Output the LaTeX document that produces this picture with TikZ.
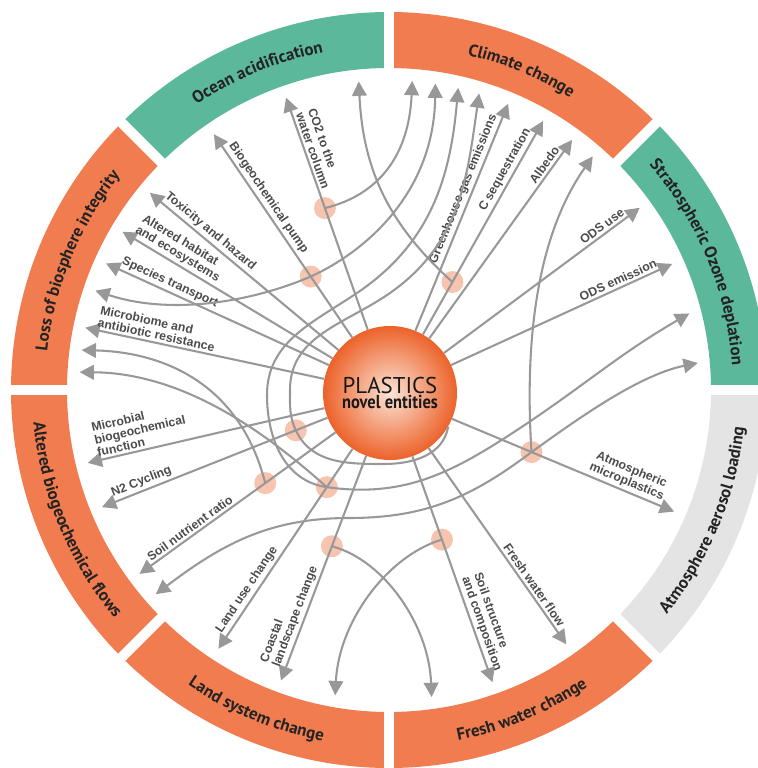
\documentclass[tikz,border=0pt]{standalone}
\usepackage{fontspec}
\setmainfont{Liberation Sans}
\newfontfamily\bandfont{PT Sans}
\usepackage{graphicx}
\usepackage{tikz}
\usetikzlibrary{arrows.meta,calc,decorations.text}
\definecolor{ringorange}{RGB}{240,124,79}
\definecolor{ringteal}{RGB}{92,184,155}
\definecolor{ringgrey}{RGB}{228,228,228}
\definecolor{bandink}{RGB}{35,35,35}
\definecolor{flowgrey}{RGB}{152,152,152}
\definecolor{labelgrey}{RGB}{75,75,75}
\definecolor{junctionpink}{RGB}{247,196,175}
\definecolor{hubedge}{RGB}{236,98,42}
\definecolor{hublight}{RGB}{252,228,214}
\newcommand{\bandstyle}{\bandfont\bfseries\fontsize{14.5}{16}\selectfont}
\tikzset{
  flowarrow/.style={draw=flowgrey, line width=0.62mm, -{Triangle[length=4.3mm,width=4.4mm]}},
  flowboth/.style={draw=flowgrey, line width=0.62mm, {Triangle[length=4.3mm,width=4.4mm]}-{Triangle[length=4.3mm,width=4.4mm]}},
  flowlabel/.style={font=\fontsize{10.5}{11}\selectfont\bfseries, text=labelgrey, sloped, above, inner sep=2pt, align=left},
  junction/.style={circle, fill=junctionpink, minimum size=6.6mm, inner sep=0pt},
  hubnode/.style={circle, shade, inner color=hublight, outer color=hubedge, minimum size=40.2mm, inner sep=0pt, align=center, text=black!90},
  bandlabel/.style={decorate, decoration={text along path, text color=bandink, text align=center, text={|\bandstyle|#1}}}
}

\begin{document}
\begin{tikzpicture}[x=0.3mm, y=0.3mm]
  \useasboundingbox (-389,-378) rectangle (369,390);
  \foreach \a/\col in {0/ringteal,45/ringorange,90/ringteal,135/ringorange,180/ringorange,225/ringorange,270/ringorange,315/ringgrey}
    \fill[\col] (\a:322) arc[start angle=\a, delta angle=45, radius=322] -- ({\a+45}:378) arc[start angle=\a+45, delta angle=-45, radius=378] -- cycle;
  \foreach \a in {0,45,...,315}
    \draw[white, line width=3mm] (\a:316) -- (\a:384);

  \path[bandlabel={Ocean acidification}] (135:344) arc[start angle=135, end angle=90, radius=344];
  \path[bandlabel={Climate change}] (90:344) arc[start angle=90, end angle=45, radius=344];
  \path[bandlabel={Stratospheric Ozone deplation}] (45:344) arc[start angle=45, end angle=0, radius=344];
  \path[bandlabel={Loss of biosphere integrity}] (180:344) arc[start angle=180, end angle=135, radius=344];
  \path[bandlabel={Altered biogeochemical flows}] (180:357) arc[start angle=180, end angle=225, radius=357];
  \path[bandlabel={Land system change}] (225:357) arc[start angle=225, end angle=270, radius=357];
  \path[bandlabel={Fresh water change}] (270:357) arc[start angle=270, end angle=315, radius=357];
  \path[bandlabel={Atmosphere aerosol loading}] (315:357) arc[start angle=315, end angle=360, radius=357];

  \foreach \n/\a in {tpump/124.4, tco/109.4, tocean/95.6, tclimA/85.7, tclimB/81.4, tclimC/77.1, tclimD/73.1,
      tghg/67.4, tcseq/60.2, talbedo/53.8, tclimE/48.9, todsuse/36.0, todsem/24.0, tozoneA/14.3, tozoneB/5.0,
      tatmo/-23.1, tflow/-55.1, tsoil/-70.5, tfreshA/-82.1, tlandA/260.0, tcoast/249.6, tlanduse/236.6,
      tbgcA/221.2, tnutrient/216.4, tnitro/202.2, tmicrob/193.6, tlossC/176.7, tlossB/172.6,
      tmicrobiome/168.4, tlossA/161.3, tspecies/155.9, thabitat/149.3, ttoxic/140.5}
    \coordinate (\n) at (\a:310);

  \node[hubnode] (hub) at (1,-3) {{\bandfont\fontsize{19.5}{20}\selectfont PLASTICS}\\[1pt]{\bandfont\bfseries\fontsize{16}{17}\selectfont\scalebox{0.88}[1]{novel entities}}};

  \node[junction] (jco) at ($(hub.center)!0.626!(tco)$) {};
  \node[junction] (jpump) at ($(hub.center)!0.45!(tpump)$) {};
  \node[junction] (jcseq) at ($(hub.center)!0.408!(tcseq)$) {};
  \node[junction] (jnitro) at ($(hub.center)!0.327!(tnitro)$) {};
  \node[junction] (jnutrient) at ($(hub.center)!0.498!(tnutrient)$) {};
  \node[junction] (jlanduse) at ($(hub.center)!0.368!(tlanduse)$) {};
  \node[junction] (jcoast) at ($(hub.center)!0.533!(tcoast)$) {};
  \node[junction] (jsoil) at ($(hub.center)!0.507!(tsoil)$) {};
  \node[junction] (jatmo) at ($(hub.center)!0.498!(tatmo)$) {};

  \draw[flowarrow] (hub) -- node[flowlabel, pos=0.66] {Biogeochemical pump} (tpump);
  \draw[flowarrow] (hub) -- node[flowlabel, pos=0.76] {CO2 to the\\water column} (tco);
  \draw[flowarrow] (hub) -- node[flowlabel, pos=0.71] {Toxicity and hazard} (ttoxic);
  \draw[flowarrow] (hub) -- node[flowlabel, pos=0.76] {Altered habitat\\and ecosystems} (thabitat);
  \draw[flowarrow] (hub) -- node[flowlabel, pos=0.73] {Species transport} (tspecies);
  \draw[flowarrow] (hub) -- node[flowlabel, pos=0.71] {Microbiome and\\antibiotic resistance} (tmicrobiome);
  \draw[flowarrow] (hub) -- node[flowlabel, pos=0.76] {Microbial\\biogeochemical\\function} (tmicrob);
  \draw[flowarrow] (hub) -- node[flowlabel, pos=0.81] {N2 Cycling} (tnitro);
  \draw[flowarrow] (hub) -- node[flowlabel, pos=0.72] {Soil nutrient ratio} (tnutrient);
  \draw[flowarrow] (hub) -- node[flowlabel, pos=0.73] {Land use change} (tlanduse);
  \draw[flowarrow] (hub) -- node[flowlabel, pos=0.73] {Coastal\\landscape change} (tcoast);
  \draw[flowarrow] (hub) -- node[flowlabel, pos=0.755] {Soil structure\\and composition} (tsoil);
  \draw[flowarrow] (hub) -- node[flowlabel, pos=0.72] {Fresh water flow} (tflow);
  \draw[flowarrow] (hub) -- node[flowlabel, pos=0.77, align=center] {Atmospheric\\microplastics} (tatmo);
  \draw[flowarrow] (hub) -- node[flowlabel, pos=0.77] {ODS emission} (todsem);
  \draw[flowarrow] (hub) -- node[flowlabel, pos=0.83] {ODS use} (todsuse);
  \draw[flowarrow] (hub) -- node[flowlabel, pos=0.85] {Albedo} (talbedo);
  \draw[flowarrow] (hub) -- node[flowlabel, pos=0.75] {C sequestration} (tcseq);
  \draw[flowarrow] (hub) -- node[flowlabel, pos=0.61] {Greenhouse gas emissions} (tghg);

  \draw[flowarrow] (jco.center) .. controls (-10,195) and (20,235) .. (tclimA);
  \draw[flowarrow] (jcseq.center) .. controls (0,165) and (-26,220) .. (tocean);
  \draw[flowboth] (tlossA) .. controls (-220,75) and (-140,87) .. (jpump.center) .. controls (-20,140) and (45,200) .. (tclimB);
  \draw[flowboth] (tclimC) to[out=265, in=34] (-32,97) to[out=214, in=90] (-122,-5) to[out=270, in=172] (jlanduse.center) to[out=-8, in=213] (122,-44) to[out=33, in=210] (tozoneA);
  \draw[flowarrow] (hub.-30) to[out=-100, in=0] (-5,-74) to[out=180, in=-65] (jnitro.center) to[out=115, in=270] (-99,0) to[out=90, in=215] (1,97) to[out=35, in=262] (tclimD);
  \draw[flowarrow] (jatmo.center) .. controls (136,40) and (145,150) .. (tclimE);
  \draw[flowboth] (tbgcA) to[out=37, in=180] (-40,-128) to[out=0, in=217] (jatmo.center) .. controls (190,-28) and (250,15) .. (tozoneB);
  \draw[flowarrow] (jsoil.center) .. controls (0,-165) and (-50,-230) .. (tlandA);
  \draw[flowarrow] (jcoast.center) .. controls (-5,-170) and (40,-235) .. (tfreshA);
  \draw[flowarrow] (jnutrient.center) .. controls (-150,10) and (-230,38) .. (tlossB);
  \draw[flowarrow] (jlanduse.center) .. controls (-115,-50) and (-200,17) .. (tlossC);
\end{tikzpicture}
\end{document}
